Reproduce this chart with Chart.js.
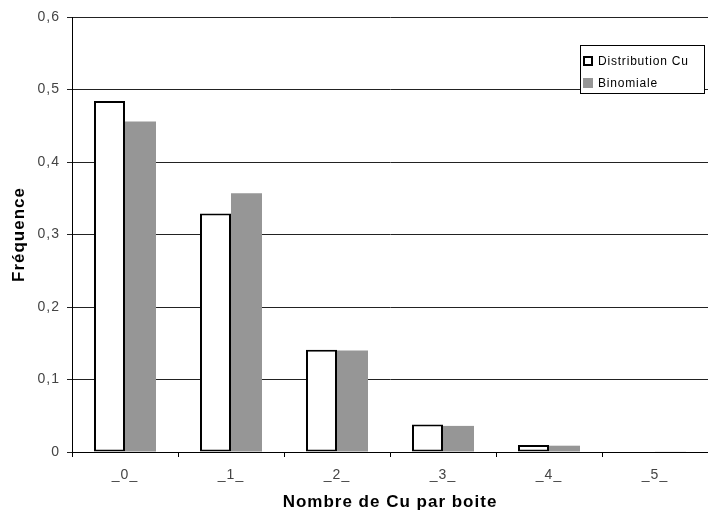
<!DOCTYPE html>
<html>
<head>
<meta charset="utf-8">
<script src="https://cdn.jsdelivr.net/npm/chart.js@4/dist/chart.umd.min.js"></script>
<style>
  html, body { margin: 0; padding: 0; background: #fff; }
  #wrap { width: 708px; height: 513px; }
</style>
</head>
<body>
<div id="wrap"><canvas id="myChart" width="708" height="513"></canvas></div>
<script>
// data
var categories = ['_0_', '_1_', '_2_', '_3_', '_4_', '_5_'];
var distributionCu = [0.484, 0.329, 0.141, 0.038, 0.0097, 0];
var binomiale = [0.456, 0.357, 0.140, 0.036, 0.0087, 0.0005];
var seriesNames = ['Distribution Cu', 'Binomiale'];

var FONT = '"Liberation Sans", Arial, sans-serif';

// Excel-ish text looks a bit spread out
var spacing = {
    id: 'spacing',
    beforeUpdate: function(chart) { chart.ctx.letterSpacing = '1px'; },
    beforeDraw: function(chart) { chart.ctx.letterSpacing = '1px'; }
};

// little boxed legend drawn inside the plot, like the Excel one
var boxLegend = {
    id: 'boxLegend',
    afterDraw: function(chart) {
        var ctx = chart.ctx;
        var x = 580, y = 45, w = 124, h = 48;
        ctx.save();
        ctx.fillStyle = '#fff';
        ctx.fillRect(x, y, w, h);
        ctx.strokeStyle = '#000';
        ctx.lineWidth = 1;
        ctx.strokeRect(x + 0.5, y + 0.5, w, h);
        ctx.font = '12px ' + FONT;
        ctx.letterSpacing = '0.8px';
        ctx.textBaseline = 'middle';
        chart.data.datasets.forEach(function(ds, i) {
            var cy = y + 16 + i * 22;
            if (ds.borderWidth) {
                ctx.fillStyle = '#fff';
                ctx.fillRect(584, cy - 4, 8, 8);
                ctx.strokeStyle = '#000';
                ctx.lineWidth = 2;
                ctx.strokeRect(584, cy - 4, 8, 8);
            } else {
                ctx.fillStyle = ds.backgroundColor;
                ctx.fillRect(583, cy - 5, 10, 10);
            }
            ctx.fillStyle = '#000';
            ctx.fillText(ds.label, 598, cy + 1);
        });
        ctx.restore();
    }
};

var ctx = document.getElementById('myChart').getContext('2d');
var myChart = new Chart(ctx, {
    type: 'bar',
    data: {
        labels: categories,
        datasets: [{
            label: seriesNames[0],
            data: distributionCu,
            backgroundColor: '#ffffff',
            borderColor: '#000000',
            borderWidth: 2,
            borderSkipped: false
        }, {
            label: seriesNames[1],
            data: binomiale,
            backgroundColor: '#969696',
            borderWidth: 0
        }]
    },
    options: {
        responsive: false,
        animation: false,
        categoryPercentage: 0.585,
        barPercentage: 1.0,
        layout: { padding: { top: 17, right: 0, left: 0, bottom: 0 } },
        plugins: {
            legend: { display: false },
            tooltip: { enabled: false }
        },
        scales: {
            x: {
                grid: {
                    display: true,
                    drawOnChartArea: false,
                    drawTicks: true,
                    tickLength: 5,
                    color: '#000'
                },
                border: { color: '#000', width: 1 },
                ticks: {
                    color: '#444',
                    font: { family: FONT, size: 14 },
                    padding: 10,
                    maxRotation: 0
                },
                title: {
                    display: true,
                    text: 'Nombre de Cu par boite',
                    color: '#000',
                    font: { family: FONT, size: 17, weight: 'bold' },
                    padding: { top: 4, bottom: 0 }
                },
                afterFit: function(scale) { scale.height = 61; }
            },
            y: {
                min: 0,
                max: 0.6,
                ticks: {
                    stepSize: 0.1,
                    color: '#444',
                    font: { family: FONT, size: 14 },
                    padding: 7,
                    callback: function(v) {
                        return v === 0 ? '0' : v.toFixed(1).replace('.', ',');
                    }
                },
                grid: {
                    color: '#222',
                    lineWidth: 1,
                    tickLength: 5
                },
                border: { color: '#000', width: 1 },
                title: {
                    display: true,
                    text: 'Fréquence',
                    color: '#000',
                    font: { family: FONT, size: 17, weight: 'bold' },
                    padding: { top: 9, bottom: 6 }
                },
                afterFit: function(scale) { scale.width = 72; }
            }
        }
    },
    plugins: [spacing, boxLegend]
});
</script>
</body>
</html>
